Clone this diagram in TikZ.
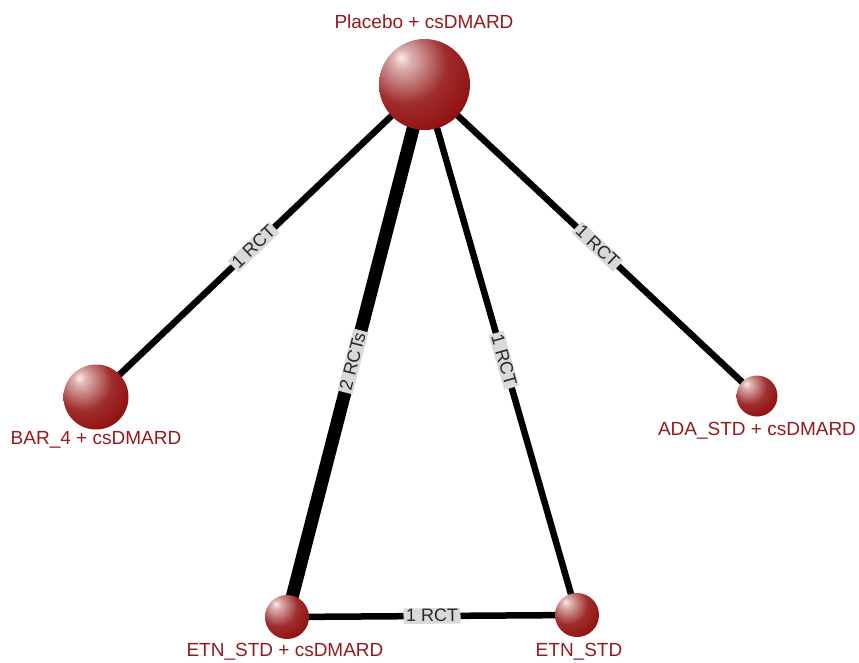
\documentclass[tikz,border=0pt]{standalone}
\usepackage{fontspec}
\setmainfont{Liberation Sans}
\usetikzlibrary{backgrounds}
\definecolor{ballred}{RGB}{138,0,0}
\definecolor{lblred}{RGB}{150,25,30}
\definecolor{lblgray}{RGB}{217,217,217}
\definecolor{lbltext}{RGB}{40,40,40}
\pgfdeclareradialshading{sphere}{\pgfpoint{-13bp}{15bp}}{%
  color(0bp)=(white!92!red);
  color(5bp)=(white!70!ballred);
  color(22bp)=(white!18!ballred);
  color(45bp)=(ballred);
  color(62bp)=(ballred!82!black);
  color(100bp)=(ballred!82!black)}
\tikzset{
  ball/.style={circle, inner sep=0pt, minimum size=#1, shading=sphere, draw=none},
  nlabel/.style={text=lblred, font=\fontsize{19}{22}\selectfont, inner sep=0pt},
  link/.style={line width=6.5pt, black},
  dlink/.style={line width=13pt, black},
  elabel/.style={fill=lblgray, text=lbltext, font=\fontsize{18}{20}\selectfont,
    inner xsep=2.5pt, inner ysep=1pt, text height=12.5pt, text depth=1pt, sloped, pos=0.52}
}
\begin{document}
\begin{tikzpicture}[x=1pt, y=-1pt]
\useasboundingbox (0,0) rectangle (859,662);
\node[ball=91pt] (P) at (424.5,84.5) {};
\node[ball=65pt] (B) at (96,397) {};
\node[ball=41pt] (A) at (757,396) {};
\node[ball=44pt] (E1) at (287,617) {};
\node[ball=44pt] (E2) at (577,615) {};
\node[nlabel] (Pl) at (424,22) {Placebo + csDMARD};
\node[nlabel] (Bl) at (96,440) {BAR\_4 + csDMARD};
\node[nlabel] (Al) at (757,431) {ADA\_STD + csDMARD};
\node[nlabel] (E1l) at (285,652) {ETN\_STD + csDMARD};
\node[nlabel] (E2l) at (579,652) {ETN\_STD};
\begin{pgfonlayer}{background}
\draw[link] (P.center) -- node[elabel] {1 RCT} (B.center);
\draw[dlink] (P.center) -- node[elabel] {2 RCTs} (E1.center);
\draw[link] (P.center) -- node[elabel] {1 RCT} (E2.center);
\draw[link] (P.center) -- node[elabel] {1 RCT} (A.center);
\draw[link] (E1.center) -- node[elabel, pos=0.5] {1 RCT} (E2.center);
\end{pgfonlayer}
\end{tikzpicture}
\end{document}
